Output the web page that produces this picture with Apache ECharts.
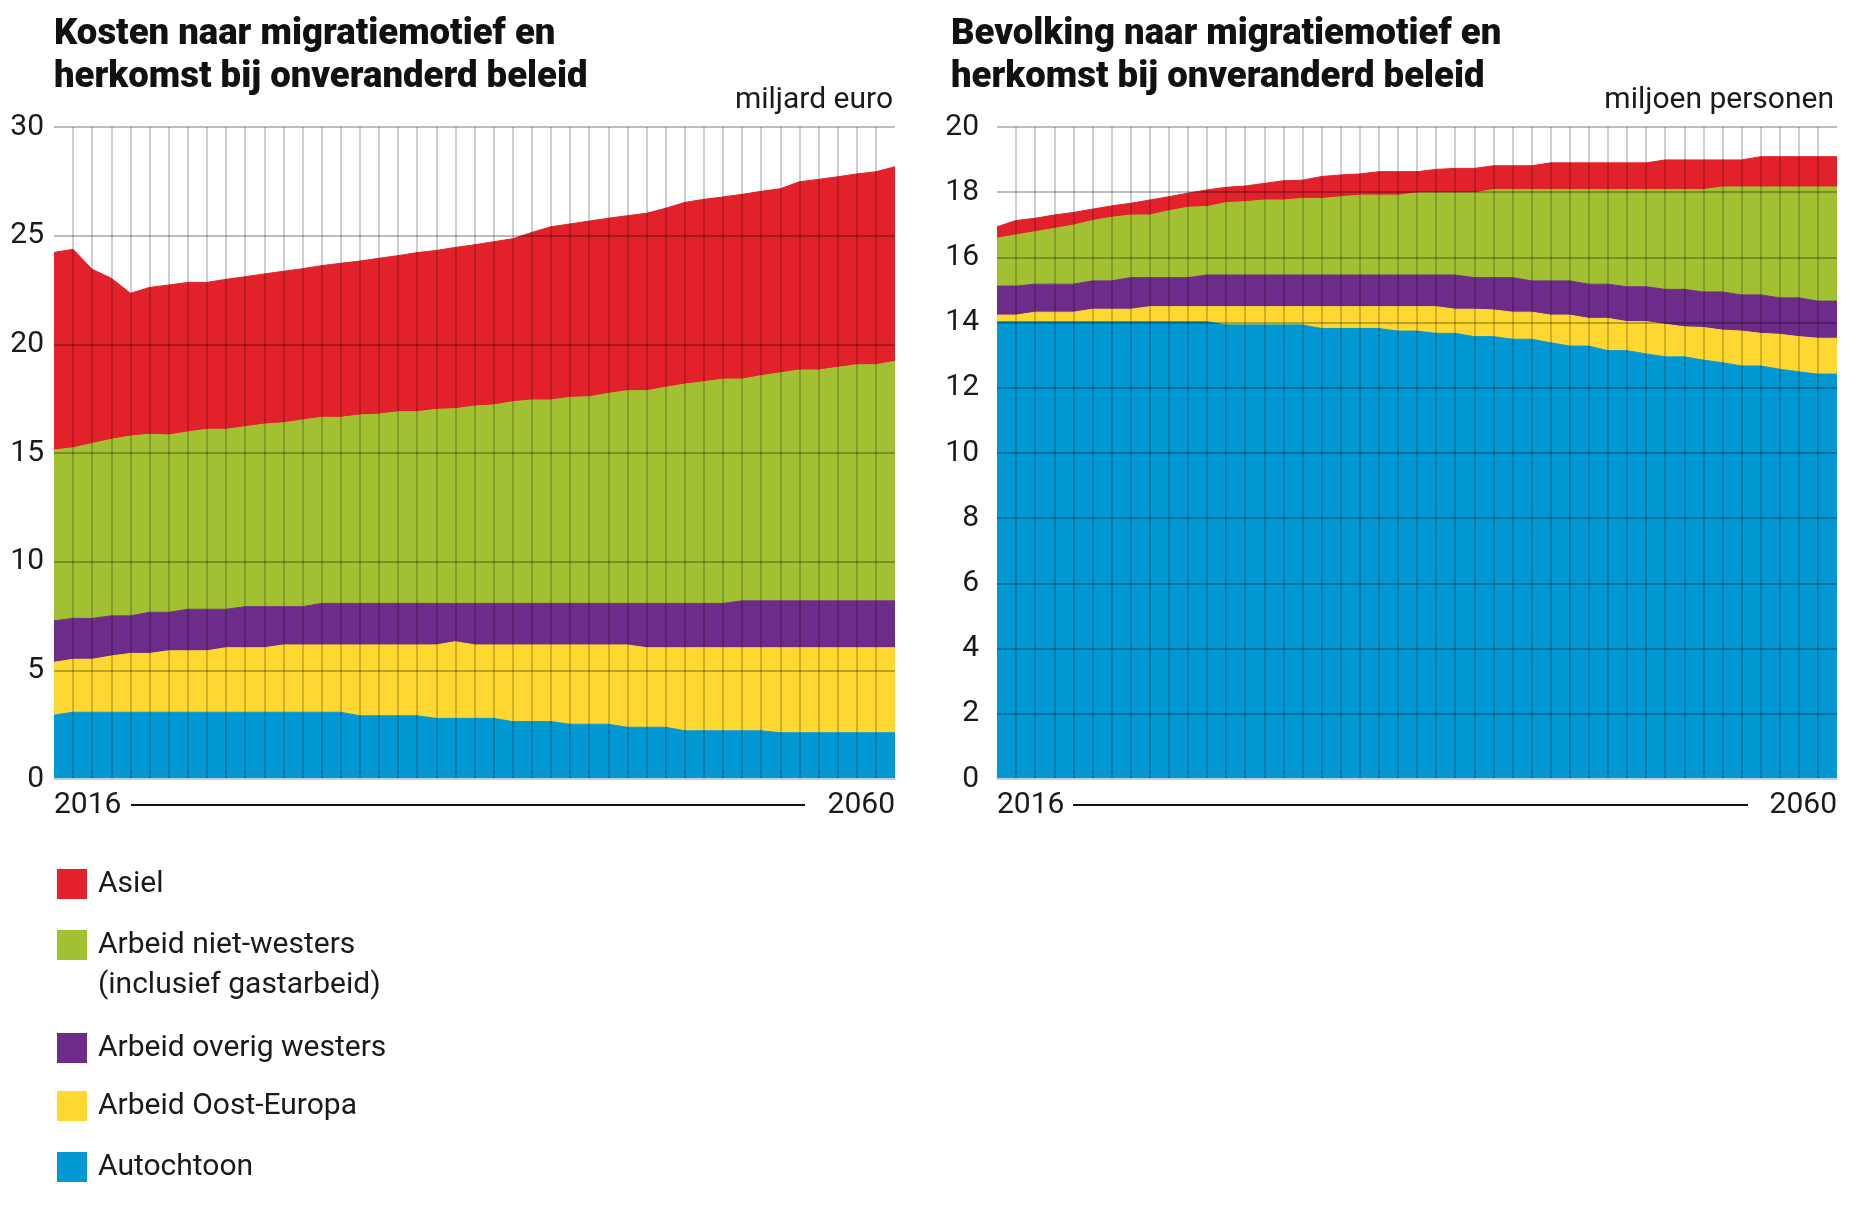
<!DOCTYPE html>
<html>
<head>
<meta charset="utf-8">
<script src="https://cdn.jsdelivr.net/npm/echarts@6/dist/echarts.min.js"></script>
<style>
html, body { margin: 0; padding: 0; background: #fff; }
#chart { width: 1854px; height: 1214px; }
</style>
</head>
<body>
<div id="chart"></div>
<script>
// jaren 2016 - 2060
var years = ['2016','2017','2018','2019','2020','2021','2022','2023','2024','2025',
             '2026','2027','2028','2029','2030','2031','2032','2033','2034','2035',
             '2036','2037','2038','2039','2040','2041','2042','2043','2044','2045',
             '2046','2047','2048','2049','2050','2051','2052','2053','2054','2055',
             '2056','2057','2058','2059','2060'];

// kosten, miljard euro
var kostenAutochtoon = [2.94,3.07,3.07,3.07,3.07,3.07,3.07,3.07,3.07,3.07,
                        3.07,3.07,3.07,3.07,3.07,3.07,2.91,2.91,2.91,2.91,
                        2.79,2.79,2.79,2.79,2.64,2.64,2.64,2.52,2.52,2.52,
                        2.38,2.38,2.38,2.22,2.22,2.22,2.22,2.22,2.13,2.13,
                        2.13,2.13,2.13,2.13,2.13];
var kostenOostEuropa = [2.43,2.44,2.44,2.59,2.71,2.71,2.83,2.83,2.83,2.97,
                        2.97,2.97,3.10,3.10,3.10,3.10,3.26,3.26,3.26,3.26,
                        3.38,3.53,3.38,3.38,3.53,3.53,3.53,3.65,3.65,3.65,
                        3.79,3.66,3.66,3.82,3.82,3.82,3.82,3.82,3.91,3.91,
                        3.91,3.91,3.91,3.91,3.91];
var kostenOverigWesters = [1.91,1.88,1.88,1.85,1.73,1.89,1.77,1.91,1.91,1.77,
                           1.89,1.89,1.76,1.76,1.91,1.91,1.91,1.91,1.91,1.91,
                           1.91,1.76,1.91,1.91,1.91,1.91,1.91,1.91,1.91,1.91,
                           1.91,2.04,2.04,2.04,2.04,2.04,2.16,2.16,2.16,2.16,
                           2.16,2.16,2.16,2.16,2.16];
var kostenNietWesters = [7.86,7.85,8.05,8.12,8.27,8.19,8.16,8.16,8.28,8.28,
                         8.28,8.40,8.46,8.59,8.56,8.56,8.67,8.71,8.82,8.82,
                         8.93,8.96,9.08,9.13,9.28,9.36,9.36,9.48,9.51,9.66,
                         9.79,9.79,9.94,10.09,10.20,10.32,10.20,10.36,10.49,10.62,
                         10.62,10.74,10.86,10.86,11.02];
var kostenAsiel = [9.09,9.13,8.01,7.41,6.57,6.76,6.90,6.88,6.76,6.90,
                   6.90,6.91,6.97,6.96,6.98,7.09,7.08,7.17,7.18,7.32,
                   7.31,7.42,7.42,7.51,7.50,7.71,7.97,7.98,8.08,8.06,
                   8.05,8.16,8.24,8.36,8.39,8.38,8.50,8.48,8.47,8.66,
                   8.77,8.77,8.78,8.88,8.95];

// bevolking, miljoen personen
var bevAutochtoon = [14.03,14.03,14.03,14.03,14.03,14.03,14.03,14.03,14.03,14.03,
                     14.03,14.03,13.93,13.93,13.93,13.93,13.93,13.82,13.82,13.82,
                     13.82,13.74,13.74,13.67,13.67,13.57,13.57,13.49,13.49,13.38,
                     13.28,13.28,13.14,13.14,13.04,12.95,12.95,12.85,12.77,12.67,
                     12.67,12.57,12.49,12.42,12.42];
var bevOostEuropa = [0.20,0.20,0.29,0.29,0.29,0.38,0.38,0.38,0.46,0.46,
                     0.46,0.46,0.56,0.56,0.56,0.56,0.56,0.67,0.67,0.67,
                     0.67,0.75,0.75,0.82,0.74,0.84,0.82,0.83,0.83,0.85,
                     0.95,0.85,0.99,0.89,0.99,1.00,0.92,1.00,1.00,1.07,
                     1.00,1.07,1.08,1.10,1.10];
var bevOverigWesters = [0.89,0.89,0.86,0.86,0.86,0.87,0.87,0.97,0.89,0.89,
                        0.89,0.97,0.97,0.97,0.97,0.97,0.97,0.97,0.97,0.97,
                        0.97,0.97,0.97,0.97,1.05,0.97,0.99,1.06,0.96,1.05,
                        1.05,1.05,1.05,1.07,1.07,1.07,1.15,1.09,1.17,1.11,
                        1.18,1.12,1.19,1.14,1.14];
var bevNietWesters = [1.47,1.57,1.61,1.71,1.81,1.85,1.95,1.92,1.92,2.05,
                      2.16,2.10,2.22,2.25,2.30,2.30,2.35,2.35,2.40,2.45,
                      2.45,2.45,2.52,2.52,2.52,2.60,2.70,2.70,2.80,2.80,
                      2.80,2.90,2.90,2.98,2.98,3.06,3.06,3.14,3.22,3.31,
                      3.31,3.40,3.40,3.50,3.50];
var bevAsiel = [0.35,0.44,0.41,0.41,0.39,0.35,0.35,0.36,0.46,0.43,
                0.43,0.51,0.47,0.48,0.51,0.59,0.56,0.67,0.67,0.65,
                0.72,0.72,0.65,0.72,0.75,0.75,0.73,0.73,0.73,0.82,
                0.82,0.82,0.82,0.82,0.82,0.91,0.91,0.91,0.83,0.83,
                0.93,0.93,0.93,0.93,0.93];

var names = ['Asiel', 'Arbeid niet-westers\n(inclusief gastarbeid)', 'Arbeid overig westers', 'Arbeid Oost-Europa', 'Autochtoon'];
var colors = ['#e2212b', '#a1c133', '#6d2c8a', '#fed831', '#0198d4'];

var FONT = "Roboto, 'Liberation Sans', sans-serif";
var TXT = '#1a1a1a';
var GRID_LINE = 'rgba(0,0,0,0.26)';

function area(idx, k, data) {
  return {
    name: names[k],
    type: 'line',
    stack: 'st' + idx,
    xAxisIndex: idx,
    yAxisIndex: idx,
    data: data,
    symbol: 'none',
    silent: true,
    lineStyle: { width: 1, color: colors[k] },
    itemStyle: { color: colors[k] },
    areaStyle: { color: colors[k], opacity: 1 },
    emphasis: { disabled: true }
  };
}

function xAx(idx) {
  return {
    type: 'category',
    gridIndex: idx,
    data: years,
    boundaryGap: false,
    z: 5,
    axisTick: { show: false },
    axisLine: { show: true, lineStyle: { color: '#bccfdb', width: 2 } },
    axisLabel: {
      interval: function (i) { return i === 0 || i === years.length - 1; },
      alignMinLabel: 'left',
      alignMaxLabel: 'right',
      margin: 11,
      fontSize: 30,
      color: TXT,
      fontFamily: FONT
    },
    splitLine: {
      show: true,
      interval: 0,
      showMinLine: false,
      showMaxLine: false,
      lineStyle: { color: GRID_LINE, width: 1.5 }
    }
  };
}

function yAx(idx, max, step, margin) {
  return {
    type: 'value',
    gridIndex: idx,
    min: 0,
    max: max,
    interval: step,
    z: 5,
    axisLine: { show: false },
    axisTick: { show: false },
    axisLabel: { margin: margin, fontSize: 30, color: TXT, fontFamily: FONT },
    splitLine: { show: true, showMinLine: false, lineStyle: { color: GRID_LINE, width: 1.8 } }
  };
}

function legendRow(k, top) {
  var multi = names[k].indexOf('\n') >= 0;
  var row = {
    data: [names[k]],
    left: 57,
    top: top,
    padding: 0,
    orient: 'vertical',
    icon: 'rect',
    itemWidth: 30,
    itemHeight: 30,
    selectedMode: false,
    textStyle: {
      fontSize: 30,
      color: TXT,
      fontFamily: FONT,
      lineHeight: multi ? 40 : 34,
      padding: [0, 0, 0, 6]
    }
  };
  if (multi) {
    // lege regel boven, zodat de eerste tekstregel naast het blokje staat
    row.formatter = function (name) { return '{s| }\n' + name; };
    row.textStyle.rich = { s: { fontSize: 10, lineHeight: 40 } };
  }
  return row;
}

var chart = echarts.init(document.getElementById('chart'));

var option = {
  animation: false,
  backgroundColor: '#fff',
  title: [
    { text: 'Kosten naar migratiemotief en\nherkomst bij onveranderd beleid', left: 54, top: 13, padding: 0,
      textStyle: { fontSize: 36.5, fontWeight: 900, lineHeight: 43, color: '#111', fontFamily: FONT } },
    { text: 'Bevolking naar migratiemotief en\nherkomst bij onveranderd beleid', left: 951, top: 13, padding: 0,
      textStyle: { fontSize: 36.5, fontWeight: 900, lineHeight: 43, color: '#111', fontFamily: FONT } },
    { text: 'miljard euro', right: 961, top: 85, padding: 0,
      textStyle: { fontSize: 30, fontWeight: 'normal', color: TXT, fontFamily: FONT } },
    { text: 'miljoen personen', right: 20, top: 85, padding: 0,
      textStyle: { fontSize: 30, fontWeight: 'normal', color: TXT, fontFamily: FONT } }
  ],
  legend: [
    legendRow(0, 867),
    legendRow(1, 885),
    legendRow(2, 1031),
    legendRow(3, 1089),
    legendRow(4, 1150)
  ],
  grid: [
    { left: 54, top: 127, width: 841, height: 652 },
    { left: 997, top: 127, width: 840, height: 652 }
  ],
  xAxis: [xAx(0), xAx(1)],
  yAxis: [yAx(0, 30, 5, 10), yAx(1, 20, 2, 18)],
  series: [
    area(0, 4, kostenAutochtoon),
    area(0, 3, kostenOostEuropa),
    area(0, 2, kostenOverigWesters),
    area(0, 1, kostenNietWesters),
    area(0, 0, kostenAsiel),
    area(1, 4, bevAutochtoon),
    area(1, 3, bevOostEuropa),
    area(1, 2, bevOverigWesters),
    area(1, 1, bevNietWesters),
    area(1, 0, bevAsiel)
  ],
  graphic: [
    { type: 'line', shape: { x1: 131, y1: 805, x2: 805, y2: 805 }, style: { stroke: '#111', lineWidth: 2 }, silent: true },
    { type: 'line', shape: { x1: 1073, y1: 805, x2: 1748, y2: 805 }, style: { stroke: '#111', lineWidth: 2 }, silent: true }
  ]
};

chart.setOption(option);
</script>
</body>
</html>
